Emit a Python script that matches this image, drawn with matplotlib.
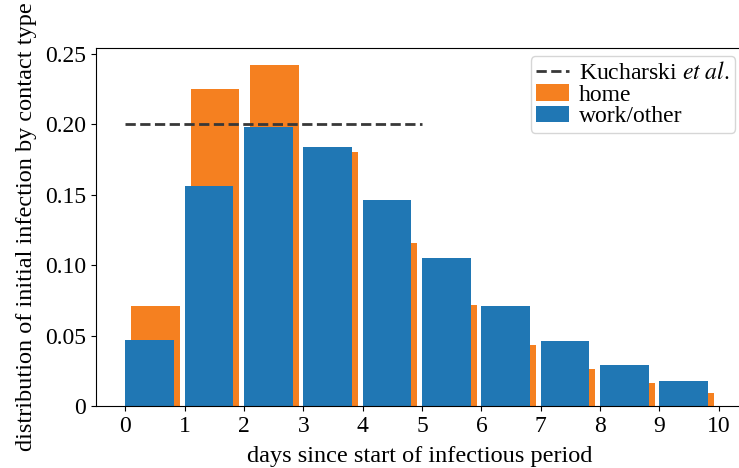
import numpy as np
import matplotlib
matplotlib.use("Agg")
import matplotlib.pyplot as plt

plt.rcParams["font.family"] = ["Liberation Serif", "DejaVu Serif"]
plt.rcParams["mathtext.fontset"] = "stix"

# day bins since start of infectious period
days = np.arange(10)
home = [0.071, 0.225, 0.242, 0.180, 0.116, 0.072, 0.043, 0.026, 0.016, 0.009]
work_other = [0.047, 0.156, 0.198, 0.184, 0.146, 0.105, 0.071, 0.046, 0.029, 0.018]
kucharski_x = [0, 5]
kucharski_y = [0.2, 0.2]

fig = plt.figure(figsize=(7.39, 4.68), dpi=100)
ax = fig.add_axes([96 / 739, 62 / 468, 647.5 / 739, 358 / 468])

ax.plot(kucharski_x, kucharski_y, ls="--", color="0.22", lw=2,
        label=r"Kucharski $\it{et\ al.}$")
ax.bar(days + 0.1, home, width=0.82, align="edge", color="#f58020", label="home")
ax.bar(days, work_other, width=0.82, align="edge", color="#2077b4", label="work/other")

ax.set_xticks(range(11))
ax.set_yticks([0, 0.05, 0.10, 0.15, 0.20, 0.25])
ax.set_yticklabels(["0", "0.05", "0.10", "0.15", "0.20", "0.25"])
ax.tick_params(labelsize=17)
ax.set_xlabel("days since start of infectious period", fontsize=17.5, labelpad=7)
ax.set_ylabel("distribution of initial infection by contact type", fontsize=17.5, labelpad=6)
ax.legend(loc="upper right", fontsize=17, handlelength=1.4, handletextpad=0.4,
          borderpad=0.25, labelspacing=0.0, borderaxespad=0.35)

fig.savefig("out.png", dpi=100)
